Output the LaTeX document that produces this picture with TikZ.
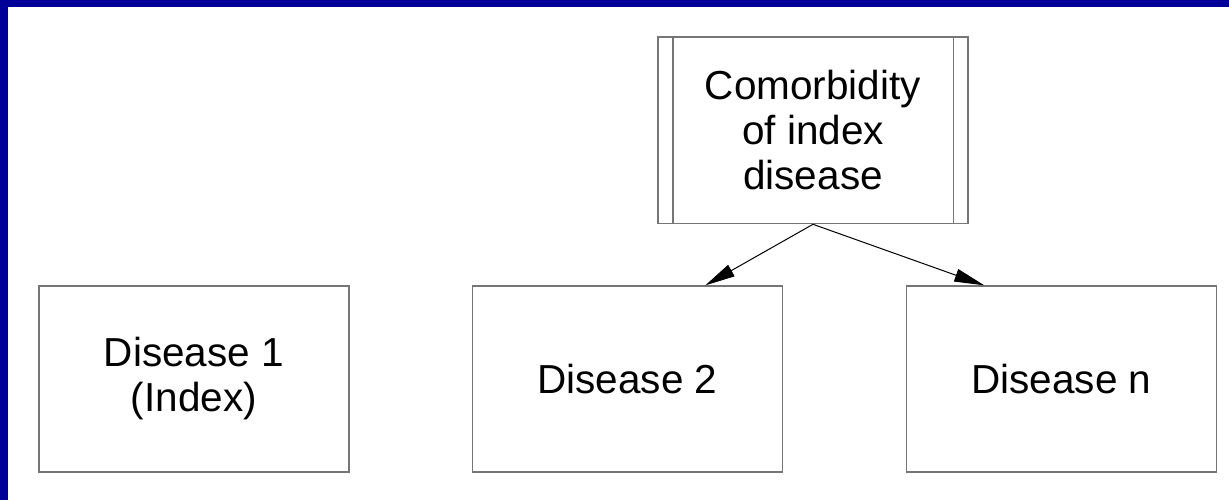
\documentclass[tikz,border=0pt]{standalone}
\usepackage{fontspec}
\setmainfont{Liberation Sans}
\usetikzlibrary{arrows.meta}
\definecolor{frameblue}{RGB}{0,0,153}
\definecolor{boxgray}{RGB}{118,118,118}
\begin{document}
\begin{tikzpicture}[x=1pt,y=-1pt,
  box/.style={draw=boxgray,line width=1.3pt,minimum width=310pt,minimum height=186pt,inner sep=0pt,align=center,font=\fontsize{40.5}{45}\selectfont},
  sideline/.style={draw=boxgray,line width=1.3pt},
  conn/.style={draw=black,line width=1pt,-{Triangle[length=30pt,width=13pt]}}]
\useasboundingbox (0,0) rectangle (1229,500);
\fill[frameblue] (0,0) rectangle (1229,500);
\fill[white] (8,7) rectangle (1229,500);
\node[box] (d1) at (194,379) {Disease 1\\(Index)};
\node[box] (d2) at (627.3,379) {Disease 2};
\node[box] (dn) at (1061.3,379) {Disease n};
\node[box,minimum height=186.5pt] (c) at (813,130.4) {Comorbidity\\of index\\disease};
\draw[sideline] ([xshift=15.5pt]c.north west) -- ([xshift=15.5pt]c.south west);
\draw[sideline] ([xshift=-15pt]c.north east) -- ([xshift=-15pt]c.south east);
\draw[conn] (c.south) -- ([xshift=78pt]d2.north);
\draw[conn] (c.south) -- ([xshift=-77pt]dn.north);
\end{tikzpicture}
\end{document}
